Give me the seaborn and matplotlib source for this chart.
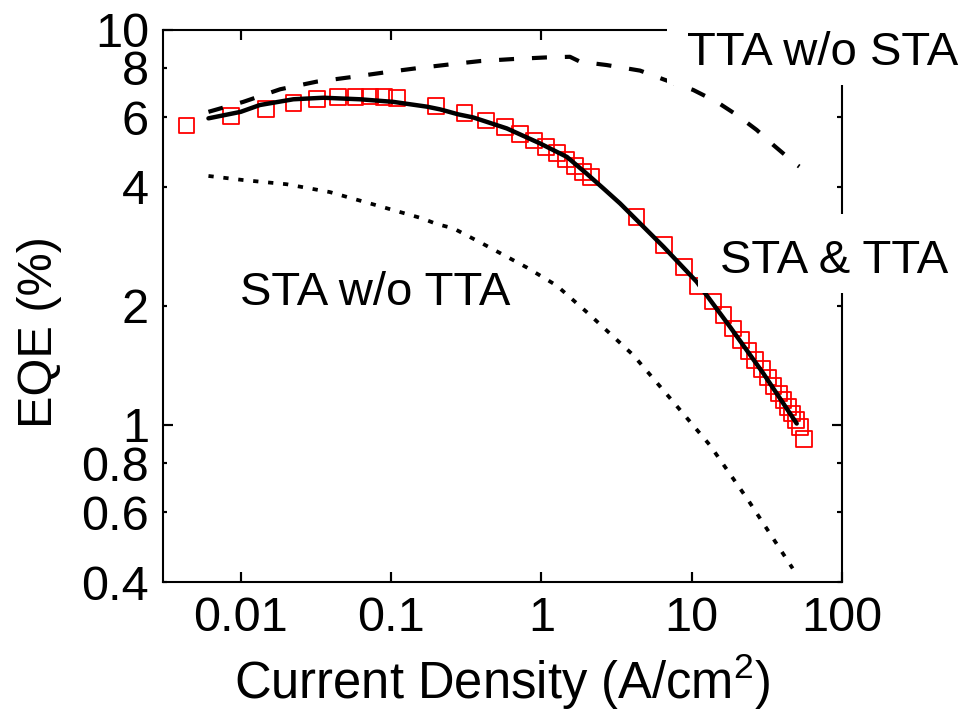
import matplotlib
matplotlib.use("Agg")
import numpy as np
import pandas as pd
import matplotlib.pyplot as plt
import seaborn as sns
from matplotlib.patches import Rectangle
from matplotlib.ticker import NullFormatter

# ---------------- data ----------------
meas_x = [0.00435, 0.00866, 0.01466, 0.0224, 0.0323, 0.0442, 0.0579, 0.0721, 0.0902, 0.1096,
          0.200, 0.3075, 0.4286, 0.571, 0.725, 0.894, 1.07, 1.265, 1.466, 1.683, 1.90, 2.13,
          4.29, 6.52, 8.85, 10.98, 13.8, 16.3, 18.76, 21.3, 23.9, 26.5, 29.3, 32.1, 35.0,
          38.0, 40.8, 43.8, 46.5, 49.5, 52.6, 56.2]
meas_y = [5.72, 6.03, 6.30, 6.53, 6.67, 6.74, 6.76, 6.77, 6.75, 6.70,
          6.40, 6.14, 5.89, 5.67, 5.44, 5.24, 5.04, 4.88, 4.69, 4.52, 4.36, 4.24,
          3.36, 2.85, 2.51, 2.246, 2.05, 1.893, 1.752, 1.636, 1.538, 1.457, 1.382, 1.317, 1.254,
          1.200, 1.153, 1.109, 1.067, 1.026, 0.987, 0.919]

both_x = [0.0061, 0.01, 0.0134, 0.0224, 0.0355, 0.0622, 0.1035, 0.173, 0.212, 0.28, 0.353,
          0.589, 0.98, 1.48, 2.0, 2.59, 3.34, 6.5, 10.8, 18.0, 30.0, 50.0]
both_y = [5.96, 6.19, 6.44, 6.66, 6.72, 6.66, 6.56, 6.38, 6.28, 6.10, 5.99,
          5.62, 5.15, 4.76, 4.32, 3.96, 3.63, 2.82, 2.30, 1.769, 1.348, 1.007]

tta_x = [0.0061, 0.0104, 0.0183, 0.032, 0.0561, 0.0889, 0.148, 0.26, 0.391, 0.651, 1.086,
         1.55, 1.81, 2.72, 4.54, 6.49, 10.26, 14.7, 19.95, 27.1, 35.0, 48.8, 52.0]
tta_y = [6.19, 6.56, 7.06, 7.38, 7.59, 7.78, 7.98, 8.18, 8.32, 8.42, 8.50,
         8.53, 8.29, 8.13, 7.87, 7.48, 7.03, 6.56, 6.08, 5.57, 5.10, 4.58, 4.50]

sta_x = [0.0061, 0.0104, 0.0202, 0.039, 0.0803, 0.16, 0.2014, 0.26, 0.401, 0.80, 1.265,
         2.06, 4.09, 7.55, 13.25, 23.8, 47.0]
sta_y = [4.26, 4.16, 4.06, 3.88, 3.59, 3.33, 3.22, 3.14, 2.88, 2.50, 2.25,
         1.91, 1.50, 1.142, 0.887, 0.644, 0.433]

x_ticks = [0.01, 0.1, 1, 10, 100]
x_tick_labels = ["0.01", "0.1", "1", "10", "100"]
y_major = [1, 10]
y_major_labels = ["1", "10"]
y_minor = [0.4, 0.6, 0.8, 2, 4, 6, 8]
y_minor_labels = ["0.4", "0.6", "0.8", "2", "4", "6", "8"]

# ---------------- style ----------------
sns.set_style("ticks")
plt.rcParams.update({
    "font.family": ["Liberation Sans", "DejaVu Sans"],
    "mathtext.fontset": "custom",
    "mathtext.rm": "Liberation Sans",
    "mathtext.it": "Liberation Sans:italic",
    "mathtext.bf": "Liberation Sans:bold",
    "text.color": "black",
    "axes.labelcolor": "black",
    "axes.edgecolor": "black",
    "axes.axisbelow": False,
    "xtick.color": "black",
    "ytick.color": "black",
    "xtick.direction": "in",
    "ytick.direction": "in",
    "xtick.top": True,
    "ytick.right": True,
})

FS = 35
XLO, XHI = 0.00304, 100
YLO, YHI = 0.4, 10

fig = plt.figure(figsize=(9.65, 7.11), dpi=100)
ax = fig.add_axes([0.1689, 0.1814, 0.7036, 0.7771])
ax.set_xscale("log")
ax.set_yscale("log")

df_meas = pd.DataFrame({"J": meas_x, "EQE": meas_y})
df_both = pd.DataFrame({"J": both_x, "EQE": both_y})
df_tta = pd.DataFrame({"J": tta_x, "EQE": tta_y})
df_sta = pd.DataFrame({"J": sta_x, "EQE": sta_y})

sns.scatterplot(data=df_meas, x="J", y="EQE", ax=ax, marker="s", s=128,
                facecolor="none", edgecolor="red", linewidth=1.3, zorder=1)
sns.lineplot(data=df_both, x="J", y="EQE", ax=ax, color="black", lw=3.2, zorder=2)
sns.lineplot(data=df_tta, x="J", y="EQE", ax=ax, color="black", lw=3.0,
             linestyle=(0, (3.6, 4.3)), zorder=2)
sns.lineplot(data=df_sta, x="J", y="EQE", ax=ax, color="black", lw=2.7,
             linestyle=(0, (1.4, 2.6)), zorder=2)

ax.set_xlim(XLO, XHI)
ax.set_ylim(YLO, YHI)

ax.set_xticks(x_ticks, labels=x_tick_labels)
ax.xaxis.set_minor_formatter(NullFormatter())
ax.set_yticks(y_major, labels=y_major_labels)
ax.set_yticks(y_minor, labels=y_minor_labels, minor=True)

for sp in ax.spines.values():
    sp.set_linewidth(1.5)
    sp.set_color("black")
    sp.set_visible(True)

ax.tick_params(which="both", direction="in", top=True, right=True, bottom=True, left=True,
               labelsize=FS, pad=10, color="black")
ax.tick_params(which="major", length=7, width=1.5)
ax.tick_params(which="minor", length=3.2, width=1.5)

# inward tick marks drawn as short segments at the locator's tick positions
# (guarantees that the small inward ticks are visible on all four sides)
x_minor_locs = [v for v in ax.xaxis.get_minorticklocs() if XLO < v < XHI]
xt = ax.get_xaxis_transform()
yt = ax.get_yaxis_transform()
MAJ_X, MIN_X = 10 / 552.5, 4.5 / 552.5
MAJ_Y, MIN_Y = 10 / 679.0, 4.5 / 679.0
tick_kw = dict(colors="black", linewidth=1.5, clip_on=False, zorder=2.6)
for locs, L in ((x_ticks, MAJ_X), (x_minor_locs, MIN_X)):
    ax.vlines(locs, 0, L, transform=xt, **tick_kw)
    ax.vlines(locs, 1 - L, 1, transform=xt, **tick_kw)
for locs, L in ((y_major, MAJ_Y), (y_minor, MIN_Y)):
    ax.hlines(locs, 0, L, transform=yt, **tick_kw)
    ax.hlines(locs, 1 - L, 1, transform=yt, **tick_kw)
ax.set_xlim(XLO, XHI)
ax.set_ylim(YLO, YHI)

ax.set_xlabel("Current Density (A/cm$^2$)", fontsize=36.5, color="black")
ax.set_ylabel("EQE (%)", fontsize=FS, color="black")
ax.xaxis.set_label_coords(0.5, -0.125)
ax.yaxis.set_label_coords(-0.149, 0.453)

# white boxes behind annotation labels (they cover the frame as in the original)
ax.add_patch(Rectangle((0.742, 0.8995), 0.5, 0.2, transform=ax.transAxes,
                       facecolor="white", edgecolor="none", clip_on=False, zorder=2.8))
ax.add_patch(Rectangle((0.788, 0.523), 0.4, 0.143, transform=ax.transAxes,
                       facecolor="white", edgecolor="none", clip_on=False, zorder=2.8))

ax.text(0.7717, 0.9357, "TTA w/o STA", transform=ax.transAxes, fontsize=34,
        color="black", ha="left", va="baseline", zorder=3, clip_on=False)
ax.text(0.820, 0.5593, "STA & TTA", transform=ax.transAxes, fontsize=34,
        color="black", ha="left", va="baseline", zorder=3, clip_on=False)
ax.text(0.1134, 0.5014, "STA w/o TTA", transform=ax.transAxes, fontsize=34,
        color="black", ha="left", va="baseline", zorder=3, clip_on=False)

fig.savefig("out.png", dpi=100)
